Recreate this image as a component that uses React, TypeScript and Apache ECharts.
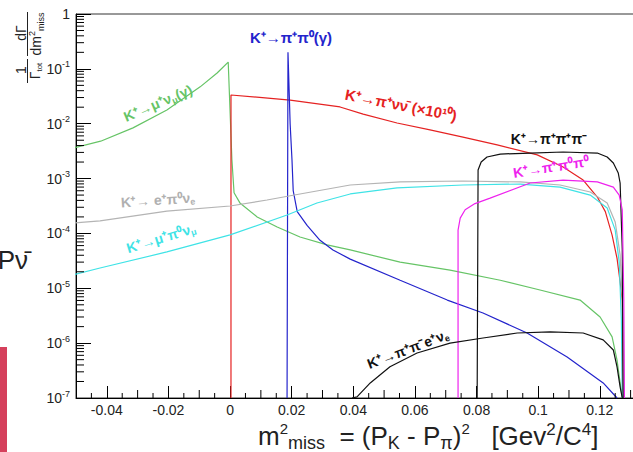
import React, { useEffect, useRef } from 'react';
import * as echarts from 'echarts';

type P = [number, number];

// x axis in GeV^2, y axis is (1/Gamma) dGamma/dm2miss (log)
const X_MIN = -0.05;
const X_MAX = 0.135;
const Y_MIN = 1e-7;
const Y_MAX = 1;

// K+ -> mu+ nu (gamma)
const kMuNu: P[] = [
  [-0.051, 3.6e-3], [-0.042, 4.8e-3], [-0.0315, 8.4e-3], [-0.0205, 1.78e-2],
  [-0.0097, 4.7e-2], [-0.0042, 8.4e-2], [-0.0006, 0.133], [0.0006, 2.2e-3],
  [0.0013, 5.5e-4], [0.0032, 3.6e-4], [0.0088, 2.0e-4], [0.0153, 1.31e-4],
  [0.0227, 8.6e-5], [0.0315, 6.2e-5], [0.039, 5.0e-5], [0.0552, 3.0e-5],
  [0.0714, 2.15e-5], [0.0877, 1.4e-5], [0.1006, 9.3e-6], [0.1136, 6.1e-6],
  [0.1201, 3.0e-6], [0.124, 1.3e-6], [0.1256, 4.9e-7], [0.1266, 1.9e-7], [0.1273, 1e-7],
];

// K+ -> pi+ nu nubar (x 1e10)
const kPiNuNu: P[] = [
  [0.0003, 1e-7], [0.0003, 3.34e-2], [0.0195, 2.7e-2], [0.0357, 2.02e-2],
  [0.0432, 1.5e-2], [0.0542, 1.03e-2], [0.0649, 7.7e-3], [0.0756, 5.7e-3],
  [0.0867, 4.1e-3], [0.0997, 2.7e-3], [0.1081, 1.63e-3], [0.1146, 9.4e-4],
  [0.1192, 4.6e-4], [0.1218, 2.5e-4], [0.124, 9.3e-5], [0.1256, 3.5e-5],
  [0.1266, 1.3e-5], [0.1273, 6e-6], [0.1274, 1e-7],
];

// K+ -> pi+ pi0 (gamma)
const kPiPi0: P[] = [
  [0.0185, 1e-7], [0.0188, 0.2], [0.0195, 1e-2], [0.0201, 2.2e-3],
  [0.0205, 6e-4], [0.0218, 2.5e-4], [0.025, 1.4e-4], [0.0292, 7.5e-5],
  [0.0334, 5.0e-5], [0.039, 3.4e-5], [0.0552, 1.4e-5], [0.0705, 6.1e-6],
  [0.0821, 3.55e-6], [0.0964, 1.53e-6], [0.1094, 5.6e-7], [0.1211, 1.88e-7], [0.1256, 1e-7],
];

// K+ -> e+ pi0 nu_e
const kE3: P[] = [
  [-0.051, 1.55e-4], [-0.0422, 1.69e-4], [-0.0205, 2.56e-4], [0.0, 3.16e-4],
  [0.012, 4.07e-4], [0.0227, 5.24e-4], [0.039, 7.64e-4], [0.0552, 8.67e-4],
  [0.0756, 9.04e-4], [0.0942, 8.67e-4], [0.1071, 7.64e-4], [0.1169, 5.69e-4],
  [0.1224, 3.59e-4], [0.125, 1.62e-4], [0.1266, 4.05e-5], [0.1276, 2.64e-6], [0.1279, 1e-7],
];

// K+ -> mu+ pi0 nu_mu
const kMu3: P[] = [
  [-0.051, 1.75e-5], [-0.0422, 2.34e-5], [-0.0205, 4.6e-5], [0.0, 9.4e-5],
  [0.0185, 2.17e-4], [0.0282, 3.59e-4], [0.039, 5.24e-4], [0.0542, 6.76e-4],
  [0.0756, 7.64e-4], [0.0942, 7.95e-4], [0.1071, 7.0e-4], [0.1169, 5.0e-4],
  [0.1224, 2.91e-4], [0.125, 1.16e-4], [0.1263, 3.0e-5], [0.127, 2.64e-6], [0.1273, 1e-7],
];

// K+ -> pi+ pi+ pi-
const k3Pi: P[] = [
  [0.0802, 1e-7], [0.0805, 1.43e-3], [0.0815, 2.0e-3], [0.0834, 2.47e-3],
  [0.0877, 2.8e-3], [0.0974, 2.92e-3], [0.1081, 3.05e-3], [0.1192, 2.92e-3],
  [0.1224, 2.47e-3], [0.1244, 1.92e-3], [0.126, 1.26e-3], [0.1266, 8.3e-4],
  [0.1273, 5e-5], [0.1276, 1e-7],
];

// K+ -> pi+ pi0 pi0
const kPi2Pi0: P[] = [
  [0.074, 1e-7], [0.074, 1.15e-4], [0.0747, 1.9e-4], [0.0763, 2.7e-4],
  [0.0795, 3.5e-4], [0.0844, 4.4e-4], [0.0974, 8.3e-4], [0.1081, 9.4e-4],
  [0.1192, 8.7e-4], [0.1244, 7.0e-4], [0.1263, 5.0e-4], [0.1273, 2.7e-4],
  [0.1278, 6e-6], [0.128, 1e-7],
];

// K+ -> pi+ pi- e+ nu_e
const kE4: P[] = [
  [0.0396, 1e-7], [0.0412, 1.05e-7], [0.0455, 1.88e-7], [0.0519, 3.7e-7],
  [0.0607, 6.6e-7], [0.0714, 1.0e-6], [0.0821, 1.24e-6], [0.0932, 1.53e-6],
  [0.1039, 1.6e-6], [0.1146, 1.53e-6], [0.1211, 1.15e-6], [0.1244, 7.5e-7],
  [0.1256, 3.7e-7], [0.1266, 1.6e-7], [0.1273, 1e-7],
];

const xLabelStep = 0.02;

// axis minor tick positions (decoration)
const xMinorTicks: number[] = [];
for (let i = -9; i <= 26; i++) {
  if (i % 4 !== 0) xMinorTicks.push(i * 0.005);
}
const yMinorTicks: number[] = [];
for (let e = -7; e <= -1; e++) {
  for (let m = 2; m <= 9; m++) yMinorTicks.push(m * Math.pow(10, e));
}

const FONT = '"Liberation Sans", Arial, sans-serif';

function lineSeries(name: string, data: P[], color: string) {
  return {
    type: 'line',
    name,
    data,
    showSymbol: false,
    symbol: 'none',
    clip: true,
    lineStyle: { color, width: 1.2 },
    itemStyle: { color },
    z: 3,
  };
}

function richLabel(text: string, x: number, y: number, rotDeg: number, color: string, size = 14) {
  return {
    type: 'text',
    x,
    y,
    rotation: (rotDeg * Math.PI) / 180,
    z: 20,
    style: {
      text,
      align: 'center',
      verticalAlign: 'middle',
      fill: color,
      font: `bold ${size}px ${FONT}`,
      rich: {
        a: { fontSize: size, fontWeight: 'bold', fontFamily: FONT, fill: color, lineHeight: size + 3 },
        s: { fontSize: 9, fontWeight: 'bold', fontFamily: FONT, fill: color, lineHeight: 10, verticalAlign: 'bottom' },
      },
    },
  };
}

function plainText(text: string, x: number, y: number, font: string, color: string, rot = 0, align = 'center') {
  return {
    type: 'text',
    x,
    y,
    rotation: rot,
    z: 20,
    style: { text, font, fill: color, align, verticalAlign: 'middle' },
  };
}

export default function App() {
  const ref = useRef<HTMLDivElement>(null);
  useEffect(() => {
    document.body.style.overflow = 'hidden';
    const chart = echarts.init(ref.current!, undefined, { renderer: 'svg' });
    const option: any = {
      animation: false,
      backgroundColor: '#ffffff',
      grid: {
        left: 76, right: 14, top: 14, bottom: 54,
        show: true, borderColor: '#333', borderWidth: 1,
        containLabel: false, outerBoundsMode: 'none',
      },
      xAxis: {
        type: 'value',
        min: X_MIN,
        max: X_MAX,
        splitNumber: 9,
        axisLine: { onZero: false, lineStyle: { color: '#000', width: 1 } },
        axisTick: { inside: true, length: 12, lineStyle: { color: '#000' } },
        minorTick: { show: false },
        splitLine: { show: false },
        axisLabel: {
          margin: 5,
          fontSize: 14,
          fontFamily: FONT,
          color: '#222',
          showMinLabel: true,
          showMaxLabel: true,
          formatter: (v: number) => {
            const k = Math.round(v / xLabelStep);
            if (Math.abs(v - k * xLabelStep) > 1e-9) return '';
            if (k === 0) return '0';
            return String(parseFloat(v.toFixed(2)));
          },
        },
      },
      yAxis: {
        type: 'log',
        logBase: 10,
        min: Y_MIN,
        max: Y_MAX,
        splitNumber: 7,
        axisLine: { onZero: false, lineStyle: { color: '#000', width: 1 } },
        axisTick: { inside: true, length: 15, lineStyle: { color: '#000' } },
        splitLine: { show: false },
        minorTick: { show: false },
        axisLabel: {
          margin: 6,
          formatter: (v: number) => {
            const e = Math.round(Math.log10(v));
            if (e === 0) return '{b|1}';
            return '{b|10}{s|' + e + '}';
          },
          rich: {
            b: { fontSize: 14, fontFamily: FONT, color: '#222', lineHeight: 18 },
            s: { fontSize: 9, fontFamily: FONT, color: '#222', lineHeight: 10, verticalAlign: 'top' },
          },
        },
      },
      series: [
        lineSeries('K+→μ+νμ(γ)', kMuNu, '#66c466'),
        lineSeries('K+→π+νν̄ ×1e10', kPiNuNu, '#e52222'),
        lineSeries('K+→π+π0(γ)', kPiPi0, '#2424cc'),
        lineSeries('K+→e+π0νe', kE3, '#b4b4b4'),
        lineSeries('K+→μ+π0νμ', kMu3, '#3fe3e6'),
        lineSeries('K+→π+π+π-', k3Pi, '#111111'),
        lineSeries('K+→π+π0π0', kPi2Pi0, '#ee22ee'),
        lineSeries('K+→π+π-e+νe', kE4, '#111111'),
        {
          type: 'custom',
          silent: true,
          clip: false,
          z: 6,
          data: yMinorTicks.map((v) => [X_MIN, v]),
          renderItem: (_p: any, api: any) => {
            const pt = api.coord([api.value(0), api.value(1)]);
            return {
              type: 'line',
              shape: { x1: pt[0], y1: pt[1], x2: pt[0] + 8, y2: pt[1] },
              style: { stroke: '#000', lineWidth: 1 },
            };
          },
        },
        {
          type: 'custom',
          silent: true,
          clip: false,
          z: 6,
          data: xMinorTicks.map((v) => [v, Y_MIN]),
          renderItem: (_p: any, api: any) => {
            const v = api.value(0);
            const pt = api.coord([v, api.value(1)]);
            const half = Math.abs(Math.round(v / 0.005)) % 2 === 0;
            const len = half ? 8 : 5;
            return {
              type: 'line',
              shape: { x1: pt[0], y1: pt[1], x2: pt[0], y2: pt[1] - len },
              style: { stroke: '#000', lineWidth: 1 },
            };
          },
        },
      ],
      graphic: [
        // slide decorations
        { type: 'rect', shape: { x: 0, y: 347, width: 7, height: 105 }, style: { fill: '#d5405c' }, z: 20 },
        plainText('Pν\u0304', 28, 260, `26px ${FONT}`, '#222', 0, 'right'),
        // y-axis title
        plainText('1', 21, 70, `14px ${FONT}`, '#222', Math.PI / 2),
        {
          type: 'text', x: 35, y: 71, rotation: Math.PI / 2, z: 20,
          style: {
            text: '{n|Γ}{s|tot}', align: 'center', verticalAlign: 'middle',
            rich: {
              n: { fontSize: 14, fontFamily: FONT, fill: '#222', lineHeight: 16 },
              s: { fontSize: 8, fontFamily: FONT, fill: '#222', lineHeight: 9, verticalAlign: 'bottom' },
            },
          },
        },
        { type: 'line', shape: { x1: 27.5, y1: 59, x2: 27.5, y2: 83 }, style: { stroke: '#222', lineWidth: 1 }, z: 20 },
        plainText('dΓ', 21, 33, `14px ${FONT}`, '#222', Math.PI / 2),
        { type: 'line', shape: { x1: 27.5, y1: 12, x2: 27.5, y2: 56 }, style: { stroke: '#222', lineWidth: 1 }, z: 20 },
        {
          type: 'text', x: 36, y: 34, rotation: Math.PI / 2, z: 20,
          style: {
            text: '{n|dm}{p|2}{s|miss}', align: 'center', verticalAlign: 'middle',
            rich: {
              n: { fontSize: 14, fontFamily: FONT, fill: '#222', lineHeight: 18 },
              p: { fontSize: 9, fontFamily: FONT, fill: '#222', lineHeight: 9, verticalAlign: 'top' },
              s: { fontSize: 9, fontFamily: FONT, fill: '#222', lineHeight: 9, verticalAlign: 'bottom' },
            },
          },
        },
        // x-axis title
        {
          type: 'text', x: 258, y: 436, z: 20,
          style: {
            text: '{t|m}{p|2}{s|miss}{t|  = (P}{s|K}{t| - P}{s|π}{t|)}{p|2}{t|   [Gev}{q|2}{t|/C}{q|4}{t|]}',
            align: 'left', verticalAlign: 'middle',
            rich: {
              t: { fontSize: 26, fontFamily: FONT, fill: '#222', lineHeight: 31 },
              p: { fontSize: 15, fontFamily: FONT, fill: '#222', lineHeight: 17, verticalAlign: 'top' },
              q: { fontSize: 17, fontFamily: FONT, fill: '#222', lineHeight: 19, verticalAlign: 'top' },
              s: { fontSize: 18, fontFamily: FONT, fill: '#222', lineHeight: 18, verticalAlign: 'bottom' },
            },
          },
        },
        // curve annotations
        richLabel('{a|K⁺→π⁺π⁰(γ)}', 291, 37, 0, '#2424cc', 15),
        richLabel('{a|K⁺→μ⁺ν}{s|μ}{a|(γ)}', 158, 103, 23, '#66c466'),
        richLabel('{a|K⁺→π⁺νν̄ (×10¹⁰)}', 401, 105, -11, '#e52222', 15),
        richLabel('{a|K⁺→π⁺π⁺π⁻}', 549, 139, 0, '#111111'),
        richLabel('{a|K⁺→π⁺π⁰π⁰}', 551, 167, 9, '#ee22ee'),
        richLabel('{a|K⁺→ e⁺π⁰ν}{s|e}', 158, 200, 4, '#b0b0b0'),
        richLabel('{a|K⁺→μ⁺π⁰ν}{s|μ}', 161, 238, 17, '#3fe3e6'),
        richLabel('{a|K⁺→π⁺π⁻e⁺ν}{s|e}', 408, 349, 21, '#111111'),
      ],
    };
    chart.setOption(option);
    return () => chart.dispose();
  }, []);
  return (
    <div
      ref={ref}
      style={{ position: 'fixed', left: 0, top: 0, width: 660, height: 452, background: '#fff' }}
    />
  );
}
